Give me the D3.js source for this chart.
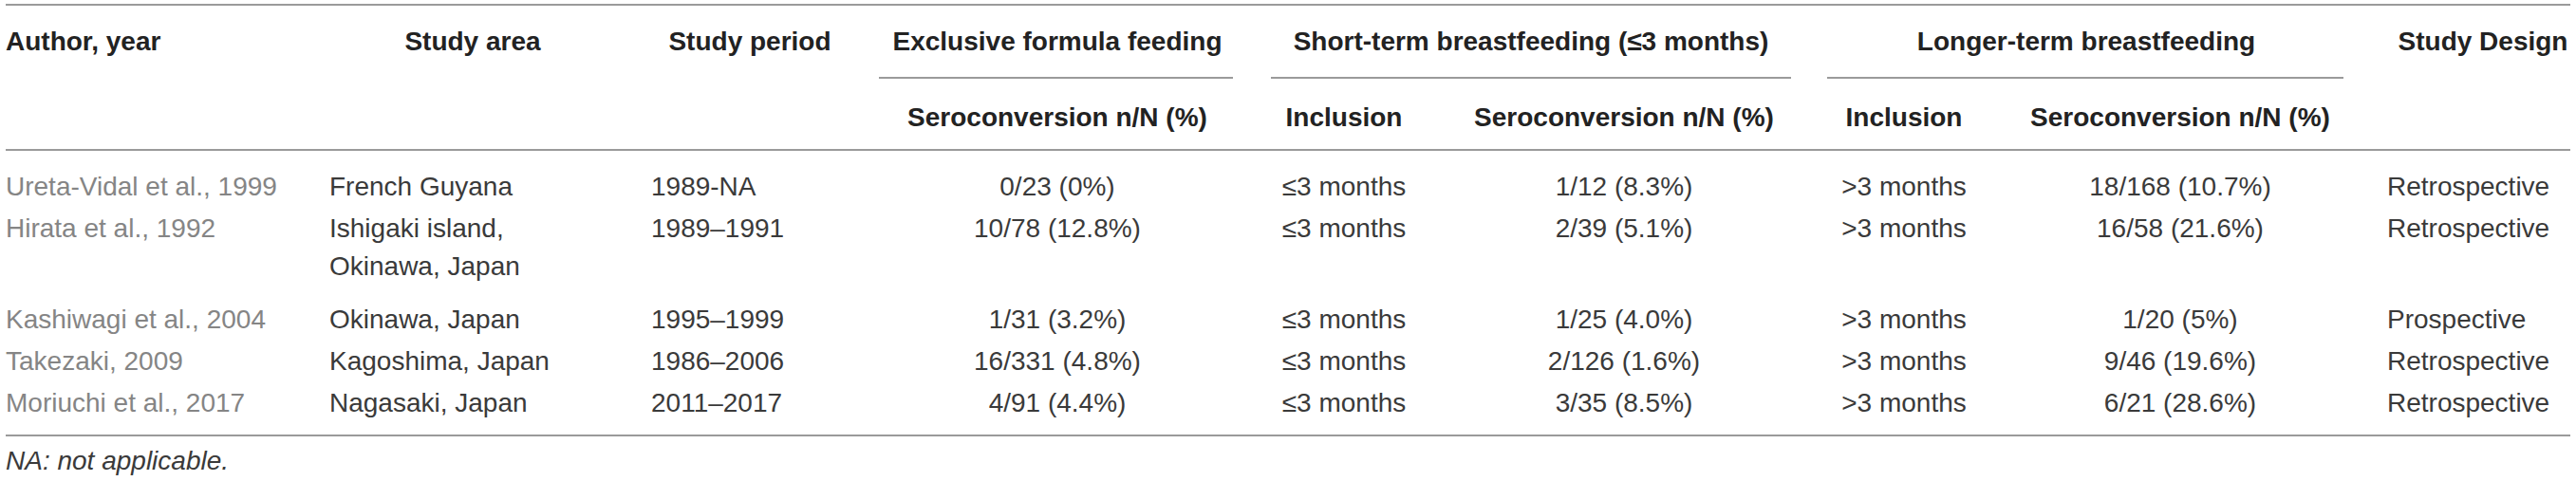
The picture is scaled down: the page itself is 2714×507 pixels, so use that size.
<!DOCTYPE html>
<html>
<head>
<meta charset="utf-8">
<script src="https://cdn.jsdelivr.net/npm/d3@7"></script>
<style>
  body { margin: 0; background: #fff; }
  text { font-family: "Liberation Sans", Arial, sans-serif; }
</style>
</head>
<body>
<script>
const width = 2714;
const height = 507;

// Table data
const authors = ["Ureta-Vidal et al., 1999", "Hirata et al., 1992", "Kashiwagi et al., 2004", "Takezaki, 2009", "Moriuchi et al., 2017"];
const areas = [["French Guyana"], ["Ishigaki island,", "Okinawa, Japan"], ["Okinawa, Japan"], ["Kagoshima, Japan"], ["Nagasaki, Japan"]];
const periods = ["1989-NA", "1989–1991", "1995–1999", "1986–2006", "2011–2017"];
const formulaSero = ["0/23 (0%)", "10/78 (12.8%)", "1/31 (3.2%)", "16/331 (4.8%)", "4/91 (4.4%)"];
const shortInclusion = ["≤3 months", "≤3 months", "≤3 months", "≤3 months", "≤3 months"];
const shortSero = ["1/12 (8.3%)", "2/39 (5.1%)", "1/25 (4.0%)", "2/126 (1.6%)", "3/35 (8.5%)"];
const longInclusion = [">3 months", ">3 months", ">3 months", ">3 months", ">3 months"];
const longSero = ["18/168 (10.7%)", "16/58 (21.6%)", "1/20 (5%)", "9/46 (19.6%)", "6/21 (28.6%)"];
const designs = ["Retrospective", "Retrospective", "Prospective", "Retrospective", "Retrospective"];

const columnKeys = ["author", "area", "period", "formula", "shortInc", "shortSero", "longInc", "longSero", "design"];
const columnHeaders = ["Author, year", "Study area", "Study period", null, null, null, null, null, "Study Design"];
const groupKeys = ["formula", "short", "long"];
const groupHeaders = ["Exclusive formula feeding", "Short-term breastfeeding (≤3 months)", "Longer-term breastfeeding"];
const subHeaders = ["Seroconversion n/N (%)", "Inclusion", "Seroconversion n/N (%)", "Inclusion", "Seroconversion n/N (%)"];
const subHeaderKeys = ["formula", "shortInc", "shortSero", "longInc", "longSero"];
const footnote = "NA: not applicable.";

// Layout
const fontSize = 28;
const ruleColor = "#9a9a9a";

// column anchor for body cells
const cellX = d3.scaleOrdinal().domain(columnKeys)
    .range([6, 347, 686, 1114, 1416, 1711, 2006, 2297, 2515]);
const cellAnchor = d3.scaleOrdinal().domain(columnKeys)
    .range(["start", "start", "start", "middle", "middle", "middle", "middle", "middle", "start"]);
// column anchor for header cells
const headX = d3.scaleOrdinal().domain(columnKeys)
    .range([6, 498, 790, 1114, 1416, 1711, 2006, 2297, 2616]);
const headAnchor = d3.scaleOrdinal().domain(columnKeys)
    .range(["start", "middle", "middle", "middle", "middle", "middle", "middle", "middle", "middle"]);
// spanning groups
const groupCenter = d3.scaleOrdinal().domain(groupKeys).range([1114, 1613, 2198]);
const groupRule = d3.scaleOrdinal().domain(groupKeys).range([[926, 1299], [1339, 1887], [1925, 2469]]);

// rows: cumulative position from line counts
const lineCounts = areas.map(a => a.length);
const rowPitch = 44, extraLine = 52, lineGap = 40;
const rowStart = [];
lineCounts.reduce((acc, n, i) => { rowStart[i] = acc; return acc + rowPitch + (n - 1) * extraLine; }, 0);
const firstBaseline = 206;

const svg = d3.select("body")
    .append("svg")
    .attr("width", width)
    .attr("height", height);

// Rules
const rules = [
    { x1: 6, x2: 2708, y: 5 },
    { x1: 6, x2: 2708, y: 158 },
    { x1: 6, x2: 2708, y: 459 }
];
svg.selectAll("line.rule")
    .data(rules)
    .enter()
    .append("line")
    .attr("class", "rule")
    .attr("x1", d => d.x1)
    .attr("x2", d => d.x2)
    .attr("y1", d => d.y)
    .attr("y2", d => d.y)
    .attr("stroke", ruleColor)
    .attr("stroke-width", 2);

svg.selectAll("line.group")
    .data(groupKeys)
    .enter()
    .append("line")
    .attr("class", "group")
    .attr("x1", d => groupRule(d)[0])
    .attr("x2", d => groupRule(d)[1])
    .attr("y1", 82)
    .attr("y2", 82)
    .attr("stroke", ruleColor)
    .attr("stroke-width", 2);

// Header texts
const header = svg.append("g")
    .attr("font-size", fontSize)
    .attr("font-weight", "bold")
    .attr("fill", "#222");

header.selectAll("text.col")
    .data(columnKeys.map((k, i) => ({ key: k, label: columnHeaders[i] })).filter(d => d.label))
    .enter()
    .append("text")
    .attr("class", "col")
    .attr("x", d => headX(d.key))
    .attr("y", 53)
    .attr("text-anchor", d => headAnchor(d.key))
    .text(d => d.label);

header.selectAll("text.grp")
    .data(groupKeys.map((k, i) => ({ key: k, label: groupHeaders[i] })))
    .enter()
    .append("text")
    .attr("class", "grp")
    .attr("x", d => groupCenter(d.key))
    .attr("y", 53)
    .attr("text-anchor", "middle")
    .text(d => d.label);

header.selectAll("text.sub")
    .data(subHeaderKeys.map((k, i) => ({ key: k, label: subHeaders[i] })))
    .enter()
    .append("text")
    .attr("class", "sub")
    .attr("x", d => headX(d.key))
    .attr("y", 133)
    .attr("text-anchor", "middle")
    .text(d => d.label);

// Body cells
const columnsData = {
    author: authors.map(d => [d]),
    area: areas,
    period: periods.map(d => [d]),
    formula: formulaSero.map(d => [d]),
    shortInc: shortInclusion.map(d => [d]),
    shortSero: shortSero.map(d => [d]),
    longInc: longInclusion.map(d => [d]),
    longSero: longSero.map(d => [d]),
    design: designs.map(d => [d])
};

const cells = [];
columnKeys.forEach(key => {
    columnsData[key].forEach((lines, row) => {
        lines.forEach((line, li) => {
            cells.push({ key, row, li, text: line });
        });
    });
});

svg.append("g")
    .attr("font-size", fontSize)
    .selectAll("text")
    .data(cells)
    .enter()
    .append("text")
    .attr("x", d => cellX(d.key))
    .attr("y", d => firstBaseline + rowStart[d.row] + d.li * lineGap)
    .attr("text-anchor", d => cellAnchor(d.key))
    .attr("fill", d => d.key === "author" ? "#858585" : "#3a3a3a")
    .text(d => d.text);

// Footnote
svg.append("text")
    .attr("x", 6)
    .attr("y", 495)
    .attr("font-size", fontSize)
    .attr("font-style", "italic")
    .attr("fill", "#3a3a3a")
    .text(footnote);
</script>
</body>
</html>
